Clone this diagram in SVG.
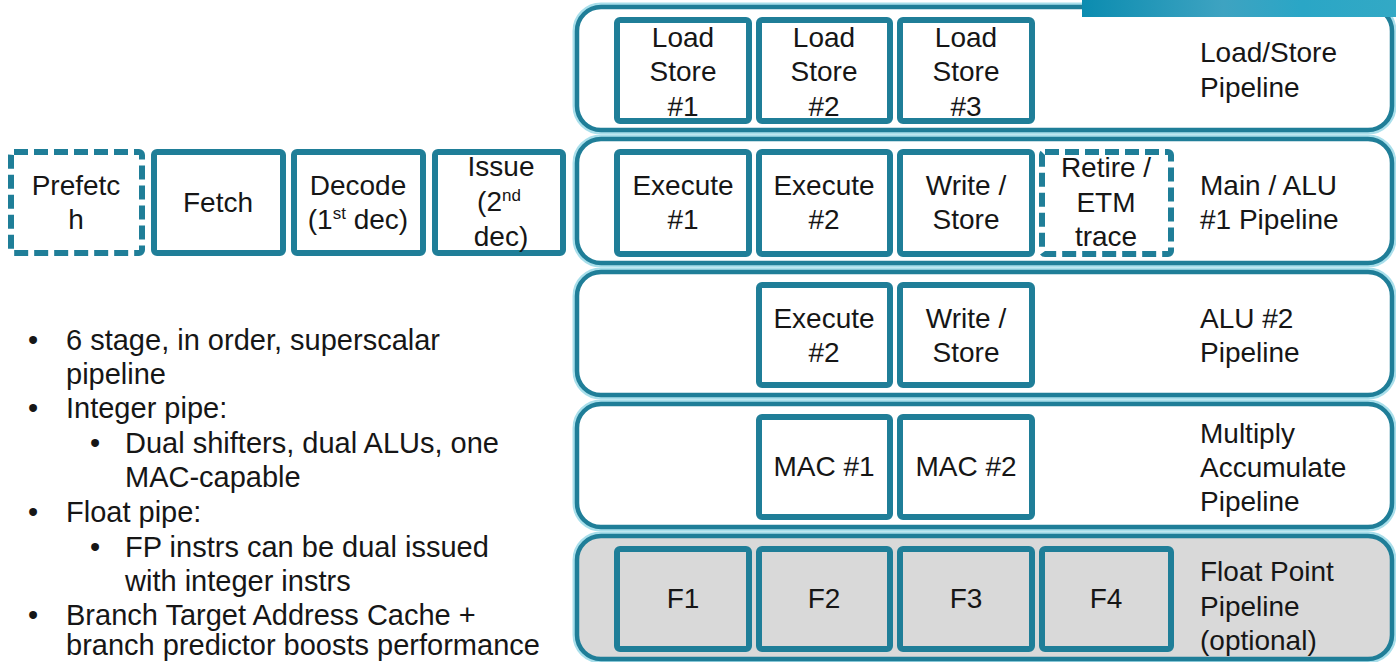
<svg xmlns="http://www.w3.org/2000/svg" width="1396" height="662" viewBox="0 0 1396 662">
<defs>
<linearGradient id="ban" x1="0" y1="0" x2="1" y2="0">
<stop offset="0" stop-color="#0b8cb0"/>
<stop offset="0.45" stop-color="#3ea3c1"/>
<stop offset="0.7" stop-color="#2aa6c6"/>
<stop offset="1" stop-color="#33a9c5"/>
</linearGradient>
<style>
text{font-family:"Liberation Sans",Arial,sans-serif;font-size:28px;fill:#161616}
.c{text-anchor:middle}
.n{font-size:29px}
.halo{fill:none;stroke:#a9dfeb;stroke-width:9}
.outer{fill:#ffffff;stroke:#1f7e98;stroke-width:4.5}
.outer.g{fill:#d9d9d9}
.box{fill:#ffffff;stroke:#1f7e98;stroke-width:6}
.box.g{fill:#d9d9d9}
.dash{fill:#ffffff;stroke:#1f7e98;stroke-width:6;stroke-dasharray:14 6}
.sup{font-size:17px}
</style>
</defs>
<rect width="1396" height="662" fill="#ffffff"/>

<g id="pipe-loadstore">
<rect class="halo" x="577" y="7" width="815" height="123" rx="24"/>
<rect class="outer" x="577" y="7" width="815" height="123" rx="24"/>
<text x="1200" y="62">Load/Store</text>
<text x="1200" y="97">Pipeline</text>
</g>
<g id="pipe-main">
<rect class="halo" x="577" y="139" width="815" height="124" rx="24"/>
<rect class="outer" x="577" y="139" width="815" height="124" rx="24"/>
<text x="1200" y="195">Main / ALU</text>
<text x="1200" y="229">#1 Pipeline</text>
</g>
<g id="pipe-alu2">
<rect class="halo" x="577" y="272" width="815" height="123" rx="24"/>
<rect class="outer" x="577" y="272" width="815" height="123" rx="24"/>
<text x="1200" y="328">ALU #2</text>
<text x="1200" y="362">Pipeline</text>
</g>
<g id="pipe-mac">
<rect class="halo" x="577" y="404" width="815" height="123" rx="24"/>
<rect class="outer" x="577" y="404" width="815" height="123" rx="24"/>
<text x="1200" y="443">Multiply</text>
<text x="1200" y="477">Accumulate</text>
<text x="1200" y="511">Pipeline</text>
</g>
<g id="pipe-fp">
<rect class="halo" x="577" y="536" width="815" height="123" rx="24"/>
<rect class="outer g" x="577" y="536" width="815" height="123" rx="24"/>
<text x="1200" y="581">Float Point</text>
<text x="1200" y="616">Pipeline</text>
<text x="1200" y="650">(optional)</text>
</g>

<rect id="banner" x="1082" y="0" width="314" height="17" fill="url(#ban)"/>

<g id="prefetch">
<rect class="dash" x="11" y="152" width="131" height="101" rx="3"/>
<text class="c" x="76" y="195">Prefetc</text>
<text class="c" x="76" y="229">h</text>
</g>
<g id="fetch">
<rect class="box" x="154" y="152" width="129" height="101" rx="3"/>
<text class="c" x="218" y="212">Fetch</text>
</g>
<g id="decode">
<rect class="box" x="294" y="152" width="129" height="101" rx="3"/>
<text class="c" x="358" y="195">Decode</text>
<text class="c" x="358" y="229">(1<tspan class="sup" dy="-10">st</tspan><tspan dy="10"> dec)</tspan></text>
</g>
<g id="issue">
<rect class="box" x="435" y="152" width="128" height="101" rx="3"/>
<text class="c" x="501" y="176">Issue</text>
<text class="c" x="499" y="211">(2<tspan class="sup" dy="-10">nd</tspan></text>
<text class="c" x="501" y="246">dec)</text>
</g>

<g id="ls1">
<rect class="box" x="617" y="20" width="132" height="101" rx="3"/>
<text class="c" x="683" y="47">Load</text>
<text class="c" x="683" y="81">Store</text>
<text class="c" x="683" y="116">#1</text>
</g>
<g id="ls2">
<rect class="box" x="759" y="20" width="131" height="101" rx="3"/>
<text class="c" x="824" y="47">Load</text>
<text class="c" x="824" y="81">Store</text>
<text class="c" x="824" y="116">#2</text>
</g>
<g id="ls3">
<rect class="box" x="900" y="20" width="132" height="101" rx="3"/>
<text class="c" x="966" y="47">Load</text>
<text class="c" x="966" y="81">Store</text>
<text class="c" x="966" y="116">#3</text>
</g>

<g id="ex1">
<rect class="box" x="617" y="152" width="132" height="102" rx="3"/>
<text class="c" x="683" y="195">Execute</text>
<text class="c" x="683" y="229">#1</text>
</g>
<g id="ex2">
<rect class="box" x="759" y="152" width="131" height="102" rx="3"/>
<text class="c" x="824" y="195">Execute</text>
<text class="c" x="824" y="229">#2</text>
</g>
<g id="wr1">
<rect class="box" x="900" y="152" width="132" height="102" rx="3"/>
<text class="c" x="966" y="195">Write /</text>
<text class="c" x="966" y="229">Store</text>
</g>
<g id="retire">
<rect class="dash" x="1042" y="152" width="129" height="102" rx="3"/>
<text class="c" x="1106" y="177">Retire /</text>
<text class="c" x="1106" y="212">ETM</text>
<text class="c" x="1106" y="246">trace</text>
</g>

<g id="alu2-ex2">
<rect class="box" x="759" y="285" width="131" height="100" rx="3"/>
<text class="c" x="824" y="328">Execute</text>
<text class="c" x="824" y="362">#2</text>
</g>
<g id="alu2-wr">
<rect class="box" x="900" y="285" width="132" height="100" rx="3"/>
<text class="c" x="966" y="328">Write /</text>
<text class="c" x="966" y="362">Store</text>
</g>

<g id="mac1">
<rect class="box" x="759" y="417" width="131" height="100" rx="3"/>
<text class="c" x="824" y="476">MAC #1</text>
</g>
<g id="mac2">
<rect class="box" x="900" y="417" width="132" height="100" rx="3"/>
<text class="c" x="966" y="476">MAC #2</text>
</g>

<g id="f1">
<rect class="box g" x="617" y="549" width="132" height="100" rx="3"/>
<text class="c" x="683" y="608">F1</text>
</g>
<g id="f2">
<rect class="box g" x="759" y="549" width="131" height="100" rx="3"/>
<text class="c" x="824" y="608">F2</text>
</g>
<g id="f3">
<rect class="box g" x="900" y="549" width="132" height="100" rx="3"/>
<text class="c" x="966" y="608">F3</text>
</g>
<g id="f4">
<rect class="box g" x="1042" y="549" width="129" height="100" rx="3"/>
<text class="c" x="1106" y="608">F4</text>
</g>

<g id="connectors"/>

<g id="notes" class="n">
<text class="n" x="28" y="350">•</text><text class="n" x="66" y="350">6 stage, in order, superscalar</text>
<text class="n" x="66" y="384">pipeline</text>
<text class="n" x="28" y="418">•</text><text class="n" x="66" y="418">Integer pipe:</text>
<text class="n" x="90" y="453">•</text><text class="n" x="125" y="453">Dual shifters, dual ALUs, one</text>
<text class="n" x="125" y="487">MAC-capable</text>
<text class="n" x="28" y="522">•</text><text class="n" x="66" y="522">Float pipe:</text>
<text class="n" x="90" y="557">•</text><text class="n" x="125" y="557">FP instrs can be dual issued</text>
<text class="n" x="125" y="591">with integer instrs</text>
<text class="n" x="28" y="625">•</text><text class="n" x="66" y="625">Branch Target Address Cache +</text>
<text class="n" x="66" y="655">branch predictor boosts performance</text>
</g>
</svg>
